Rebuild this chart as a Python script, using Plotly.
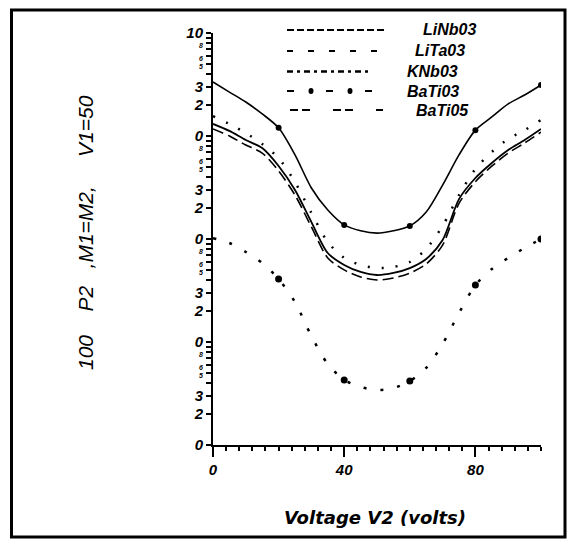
import plotly.graph_objects as go

# ---------------- data ----------------
voltage = [0, 5, 10, 15, 20, 25, 30, 35, 40, 45, 50, 55, 60, 65, 70, 75, 80, 85, 90, 95, 100]

linbo3 = [3.34, 2.67, 2.14, 1.64, 1.20, 0.655, 0.313, 0.191, 0.137, 0.120, 0.114,
          0.120, 0.134, 0.183, 0.334, 0.655, 1.14, 1.53, 2.05, 2.50, 3.13]
litao3 = [1.31, 1.12, 0.914, 0.764, 0.512, 0.299, 0.146, 0.0731, 0.0560, 0.0479, 0.0447,
          0.0468, 0.0522, 0.0640, 0.0977, 0.244, 0.391, 0.547, 0.731, 0.914, 1.17]
knbo3 = [1.56, 1.31, 1.07, 0.836, 0.611, 0.357, 0.179, 0.0935, 0.0655, 0.0560, 0.0522,
         0.0535, 0.0598, 0.0800, 0.134, 0.267, 0.479, 0.700, 0.935, 1.14, 1.43]
batio3 = [0.102, 0.0914, 0.0748, 0.0585, 0.0409, 0.0244, 0.0114, 0.00611, 0.00428, 0.00366, 0.00342,
          0.00357, 0.00418, 0.00560, 0.00957, 0.0191, 0.0357, 0.0512, 0.0655, 0.0818, 0.100]
batio5 = [1.17, 1.00, 0.817, 0.683, 0.458, 0.267, 0.131, 0.0654, 0.0501, 0.0428, 0.0400,
          0.0418, 0.0467, 0.0572, 0.0873, 0.222, 0.360, 0.509, 0.683, 0.855, 1.09]

series_names = ["LiNbO3", "LiTaO3", "KNbO3", "BaTiO3", "BaTiO5"]
legend_labels = ["LiNb03", "LiTa03", "KNb03", "BaTi03", "BaTi05"]

x_tick_vals = [0, 40, 80]
x_tick_text = ["0", "40", "80"]

decades = [0.001, 0.01, 0.1, 1, 10]
decade_text = ["0", "0", "0", "0", "10"]
multipliers = [2, 3, 4, 5, 6, 7, 8, 9]
mult_text = ["2", "3", "", "5", "6", "", "8", ""]

x_title = "Voltage V2 (volts)"
y_title = "100 P2 ,M1=M2, V1=50"

# ---------------- layout geometry ----------------
W, H = 574, 542
L, R, T, B = 213, 33, 33, 97
PW, PH = W - L - R, H - T - B


def px(xp):
    return (xp - L) / PW


def py(yp):
    return (H - B - yp) / PH


INK = "#000000"
tick_font = dict(family="Liberation Sans, Arial, sans-serif", size=15, color=INK,
                 weight="bold", style="italic")

fig = go.Figure()

marker_sizes_top = [6 if (i % 4 == 0 and i > 0) else 0 for i in range(len(voltage))]
marker_sizes_bot = [7 if (i % 4 == 0 and i > 0) else 0 for i in range(len(voltage))]

fig.add_trace(go.Scatter(x=voltage, y=linbo3, name=series_names[0], mode="lines+markers",
                         line=dict(color=INK, width=1.6, shape="spline", smoothing=0.8),
                         marker=dict(size=marker_sizes_top, color=INK, opacity=1,
                                     line=dict(width=0))))
fig.add_trace(go.Scatter(x=voltage, y=litao3, name=series_names[1], mode="lines",
                         line=dict(color=INK, width=1.8, shape="spline", smoothing=0.8)))
fig.add_trace(go.Scatter(x=voltage, y=knbo3, name=series_names[2], mode="lines",
                         line=dict(color=INK, width=2.5, dash="2px,12px", shape="spline", smoothing=0.8)))
fig.add_trace(go.Scatter(x=voltage, y=batio3, name=series_names[3], mode="lines+markers",
                         line=dict(color=INK, width=2.5, dash="3px,14px", shape="spline", smoothing=0.8),
                         marker=dict(size=marker_sizes_bot, color=INK, opacity=1,
                                     line=dict(width=0))))
fig.add_trace(go.Scatter(x=voltage, y=batio5, name=series_names[4], mode="lines",
                         line=dict(color=INK, width=1.6, dash="11px,5px", shape="spline", smoothing=0.8)))

# y ticks
y_vals, y_text = [], []
for d, dt in zip(decades, decade_text):
    y_vals.append(d)
    y_text.append(dt)
    if d < 10:
        for m, mt in zip(multipliers, mult_text):
            y_vals.append(d * m)
            if m <= 3 or mt == "":
                y_text.append(mt)
            else:
                y_text.append("<span style='font-size:7px'>" + mt + "</span>")

fig.update_xaxes(range=[0, 100], showgrid=False, zeroline=False, showline=True, linecolor=INK,
                 linewidth=2, ticks="outside", tickvals=x_tick_vals, ticktext=x_tick_text,
                 ticklen=10, tickwidth=2, tickcolor=INK, tickfont=tick_font,
                 minor=dict(dtick=4, ticks="outside", ticklen=4, tickwidth=1.5, tickcolor=INK))
fig.update_yaxes(type="log", range=[-3, 1], showgrid=False, zeroline=False, showline=True,
                 linecolor=INK, linewidth=2, ticks="outside", tickvals=y_vals, ticktext=y_text,
                 ticklen=5, tickwidth=1.5, tickcolor=INK, tickfont=tick_font)

shapes = []
annotations = []

# outer frame
shapes.append(dict(type="rect", xref="paper", yref="paper", x0=px(11.5), x1=px(565),
                   y0=py(537), y1=py(10), line=dict(color=INK, width=3)))

# custom legend
leg_rows = [30, 51, 71.5, 91, 110]
leg_x0 = [287, 287, 287, 287, 290]
leg_x1 = [387, 378, 372, 372, 383]
leg_dash = ["7px,3px", "6px,15px", "6px,4px,3px,4px", "7px,32px", "8px,4px,8px,23px"]
leg_width = [1.8, 1.8, 2.4, 2.2, 1.8]
leg_text_x = [421, 413, 404.5, 404.5, 413.5]
for yr, a, b, ds, lw, tx, lab in zip(leg_rows, leg_x0, leg_x1, leg_dash, leg_width, leg_text_x, legend_labels):
    shapes.append(dict(type="line", xref="paper", yref="paper", x0=px(a), x1=px(b),
                       y0=py(yr), y1=py(yr), line=dict(color=INK, width=lw, dash=ds)))
    annotations.append(dict(xref="paper", yref="paper", x=px(tx), y=py(yr), text=lab,
                            showarrow=False, xanchor="left", yanchor="middle",
                            font=dict(family="Liberation Sans, Arial, sans-serif", size=16,
                                      color=INK, weight="bold", style="italic")))
# big dots of the BaTiO3 legend sample
for cx in [311, 350]:
    shapes.append(dict(type="circle", xref="paper", yref="paper",
                       x0=px(cx - 2.5), x1=px(cx + 2.5), y0=py(91 + 3), y1=py(91 - 3),
                       fillcolor=INK, line=dict(color=INK, width=0)))

# axis titles
annotations.append(dict(xref="paper", yref="paper", x=px(375), y=py(517), text=x_title,
                        showarrow=False, xanchor="center", yanchor="middle",
                        font=dict(family="DejaVu Sans, sans-serif", size=18, color=INK,
                                  weight="bold", style="italic")))
nb = "\u00a0"
y_title_spaced = ("100" + nb * 4 + "P2" + nb * 3 + ",M1=M2," + nb * 5 + "V1=50")
annotations.append(dict(xref="paper", yref="paper", x=px(85), y=py(233), text=y_title_spaced,
                        showarrow=False, textangle=-90, xanchor="center", yanchor="middle",
                        font=dict(family="Liberation Sans, Arial, sans-serif", size=21, color=INK,
                                  style="italic")))

fig.update_layout(width=W, height=H, margin=dict(l=L, r=R, t=T, b=B, autoexpand=False),
                  paper_bgcolor="white", plot_bgcolor="white", showlegend=False,
                  shapes=shapes, annotations=annotations)

fig.write_html("out.html")
